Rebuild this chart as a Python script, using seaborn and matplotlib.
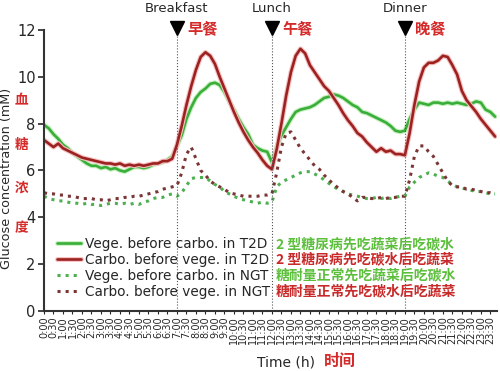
import pandas as pd
import seaborn as sns
import matplotlib.pyplot as plt
import matplotlib.patheffects as pe

# Readings every 15 min, 0:00 .. 23:45
time_h = [i * 0.25 for i in range(96)]

veg_first_t2d = [7.95, 7.8, 7.55, 7.35, 7.1, 6.95, 6.75, 6.6, 6.45, 6.3, 6.2, 6.2,
                 6.1, 6.15, 6.05, 6.1, 6.0, 5.95, 6.05, 6.15, 6.15, 6.1, 6.15, 6.25,
                 6.3, 6.35, 6.45, 6.6, 7.05, 7.5, 8.2, 8.7, 9.1, 9.35, 9.5, 9.7,
                 9.75, 9.65, 9.35, 8.95, 8.6, 8.2, 7.85, 7.55, 7.1, 6.95, 6.85, 6.8,
                 6.35, 7.0, 7.5, 7.85, 8.2, 8.5, 8.6, 8.65, 8.7, 8.8, 8.95, 9.1,
                 9.15, 9.25, 9.2, 9.1, 8.95, 8.8, 8.7, 8.5, 8.45, 8.35, 8.25, 8.15,
                 8.05, 7.9, 7.7, 7.65, 7.7, 8.2, 8.6, 8.9, 8.85, 8.8, 8.9, 8.9,
                 8.85, 8.9, 8.85, 8.9, 8.85, 8.8, 8.85, 8.95, 8.9, 8.6, 8.5, 8.3]

carb_first_t2d = [7.3, 7.15, 7.0, 7.15, 6.95, 6.85, 6.75, 6.65, 6.55, 6.5, 6.45, 6.4,
                  6.35, 6.3, 6.3, 6.25, 6.3, 6.2, 6.25, 6.2, 6.25, 6.2, 6.25, 6.3,
                  6.3, 6.4, 6.4, 6.5, 7.1, 7.9, 8.8, 9.6, 10.3, 10.85, 11.05, 10.9,
                  10.55, 10.0, 9.5, 9.0, 8.5, 8.05, 7.65, 7.3, 7.0, 6.75, 6.45, 6.2,
                  6.05, 6.9, 8.0, 9.2, 10.2, 10.9, 11.2, 11.0, 10.5, 10.2, 9.9, 9.6,
                  9.4, 9.1, 8.8, 8.45, 8.15, 7.9, 7.6, 7.45, 7.2, 7.0, 6.8, 6.95,
                  6.8, 6.85, 6.7, 6.7, 6.65, 7.6, 8.8, 9.8, 10.4, 10.6, 10.6, 10.7,
                  10.9, 10.85, 10.5, 10.1, 9.4, 9.0, 8.75, 8.5, 8.2, 7.95, 7.7, 7.45]

veg_first_ngt = [4.9, 4.8, 4.75, 4.7, 4.7, 4.65, 4.6, 4.6, 4.55, 4.6, 4.55, 4.55,
                 4.5, 4.55, 4.6, 4.6, 4.55, 4.6, 4.55, 4.6, 4.55, 4.65, 4.7, 4.8,
                 4.85, 4.85, 4.95, 5.0, 4.9, 5.05, 5.35, 5.65, 5.7, 5.7, 5.7, 5.55,
                 5.4, 5.3, 5.1, 5.0, 4.9, 4.8, 4.75, 4.7, 4.65, 4.6, 4.65, 4.6,
                 4.65, 5.3, 5.5, 5.6, 5.7, 5.8, 5.9, 5.95, 5.95, 5.85, 5.75, 5.6,
                 5.45, 5.3, 5.2, 5.1, 5.0, 4.95, 4.9, 4.85, 4.8, 4.8, 4.85, 4.8,
                 4.85, 4.8, 4.85, 4.9, 4.9, 5.3, 5.5, 5.7, 5.8, 5.9, 5.85, 5.75,
                 5.7, 5.55, 5.4, 5.3, 5.25, 5.2, 5.15, 5.1, 5.1, 5.05, 5.0, 5.0]

carb_first_ngt = [5.05, 5.0, 5.0, 4.95, 4.95, 4.9, 4.9, 4.85, 4.8, 4.8, 4.8, 4.75,
                  4.75, 4.7, 4.75, 4.8, 4.8, 4.85, 4.85, 4.9, 4.9, 4.95, 5.0, 5.05,
                  5.1, 5.2, 5.25, 5.3, 5.35, 5.9, 6.7, 7.0, 6.5, 6.0, 5.8, 5.55,
                  5.4, 5.3, 5.2, 5.05, 5.0, 4.95, 4.9, 4.9, 4.9, 4.9, 4.95, 4.95,
                  5.0, 5.9, 7.0, 7.6, 7.65, 7.3, 6.95, 6.7, 6.45, 6.2, 6.05, 5.8,
                  5.6, 5.4, 5.25, 5.1, 5.0, 4.85, 4.7, 4.85, 4.85, 4.8, 4.8, 4.85,
                  4.8, 4.85, 4.85, 4.9, 4.9, 5.6, 6.6, 7.05, 7.05, 6.8, 6.6, 6.25,
                  5.9, 5.55, 5.35, 5.3, 5.3, 5.2, 5.2, 5.15, 5.1, 5.05, 5.05, 5.0]

series_labels = ["Vege. before carbo. in T2D", "Carbo. before vege. in T2D",
                 "Vege. before carbo. in NGT", "Carbo. before vege. in NGT"]
series_cn = ["2 型糖尿病先吃蔬菜后吃碳水", "2 型糖尿病先吃碳水后吃蔬菜",
             "糖耐量正常先吃蔬菜后吃碳水", "糖耐量正常先吃碳水后吃蔬菜"]

meal_times = [7.0, 12.0, 19.0]
meal_names = ["Breakfast", "Lunch", "Dinner"]
meal_cn = ["早餐", "午餐", "晚餐"]

tick_labels = [f"{h // 2}:{'30' if h % 2 else '00'}" for h in range(48)]

sns.set_style("ticks")
plt.rcParams['font.family'] = ['DejaVu Sans', 'Noto Sans CJK SC']
cn = ['Noto Sans CJK SC', 'DejaVu Sans']
red_cn = '#d42a2a'

fig = plt.figure(figsize=(5, 3.71), dpi=100)
ax = fig.add_axes([0.088, 0.162, 0.906, 0.757])

styles = [
    (veg_first_t2d, "#3aae3a", "-", 1.9, "#c8f0c0"),
    (carb_first_t2d, "#9c2222", "-", 1.9, "#f6c0c0"),
    (veg_first_ngt, "#4caf50", ":", 2.2, None),
    (carb_first_ngt, "#7b3535", ":", 2.2, None),
]
for (vals, col, ls, lw, glow), lab in zip(styles, series_labels):
    sns.lineplot(x=time_h, y=vals, color=col, linestyle=ls, linewidth=lw,
                 label=lab, ax=ax)
    if glow:
        ax.lines[-1].set_path_effects([pe.Stroke(linewidth=lw + 1.6, foreground=glow),
                                       pe.Normal()])

ax.set_xlim(0, 23.85)
ax.set_ylim(0, 12)
ax.set_yticks([0, 2, 4, 6, 8, 10, 12])
ax.tick_params(axis='y', labelsize=10.5, length=4, width=1.2, pad=2)
ax.set_xticks([i * 0.5 for i in range(48)])
ax.set_xticklabels(tick_labels, rotation=90, fontsize=7)
ax.tick_params(axis='x', length=2, pad=2)
for s in ['left', 'bottom']:
    ax.spines[s].set_linewidth(1.5)
    ax.spines[s].set_color('#333333')
sns.despine(ax=ax)
ax.set_xlabel("")
ax.set_ylabel("")
fig.text(7 / 500, 1 - 178 / 371, "Glucose concentration (mM)", rotation=90,
         ha='center', va='center', fontsize=9.2)

for t, name, cname in zip(meal_times, meal_names, meal_cn):
    ax.axvline(t, ymax=0.985, color='#555555', linestyle=':', linewidth=0.8)
    ax.plot([t], [12.1], marker='v', color='black', markersize=10, clip_on=False)
    ax.text(t, 12.92, name, ha='center', va='center', fontsize=9.5)
    ax.text(t + 0.55, 12.1, cname, ha='left', va='center', fontsize=11,
            color=red_cn, fontweight='bold', family=cn)

# Chinese characters along y axis
for ch, yp in zip("血糖浓度", [100, 145, 188, 228]):
    fig.text(21 / 500, 1 - yp / 371, ch, ha='center', va='center', fontsize=9.8,
             color=red_cn, fontweight='bold', family=cn)

ax.legend(loc='upper left', bbox_to_anchor=(57 / 500, 1 - 237 / 371),
          bbox_transform=fig.transFigure, frameon=False, fontsize=9.8,
          handlelength=1.75, handletextpad=0.3, labelspacing=0.14,
          borderpad=0, borderaxespad=0)

cn_colors = ["#5cbf3c", "#c82a2a", "#5cbf3c", "#c82a2a"]
for i, (txt, col) in enumerate(zip(series_cn, cn_colors)):
    fig.text(276 / 500, 1 - (244 + i * 15.7) / 371, txt, ha='left', va='center',
             fontsize=10, color=col, fontweight='bold', family=cn)

fig.text(286 / 500, 1 - 362 / 371, "Time (h)", ha='center', va='center', fontsize=10)
fig.text(324 / 500, 1 - 361 / 371, "时间", ha='left', va='center', fontsize=11.5,
         color=red_cn, fontweight='bold', family=cn)

plt.savefig("out.png", dpi=100)
